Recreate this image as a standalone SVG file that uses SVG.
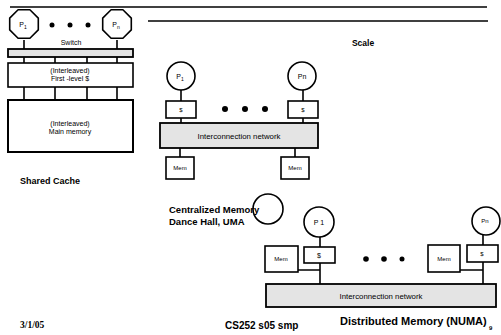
<svg xmlns="http://www.w3.org/2000/svg" width="501" height="335" viewBox="0 0 501 335">
  <style>
    .t { font-family: "Liberation Sans", Arial, sans-serif; fill: #000; }
    .s { font-size: 7px; text-anchor: middle; }
    .net { font-size: 7.8px; text-anchor: middle; }
    .sm { font-size: 6px; text-anchor: middle; }
    .b { font-weight: bold; font-size: 9.5px; }
    .box { fill: #fff; stroke: #000; stroke-width: 1.6; }
    .thick { fill: #fff; stroke: #000; stroke-width: 2; }
    .bar { fill: #e4e4e4; stroke: #000; stroke-width: 1.8; }
    .proc { fill: #fff; stroke: #000; stroke-width: 1.6; stroke-linejoin: round; }
    .open { fill: none; stroke: #000; stroke-width: 1.6; }
    .ln { stroke: #000; stroke-width: 1.6; fill: none; }
    .dot { fill: #000; }
  </style>

  <!-- header rules -->
  <g id="rules">
    <line class="ln" x1="10" y1="7" x2="487" y2="7" stroke-width="2"/>
    <line class="ln" x1="148" y1="21" x2="488" y2="21" stroke-width="2"/>
    <text class="t" x="363" y="46" font-size="8.5" font-weight="bold" text-anchor="middle">Scale</text>
  </g>

  <g id="connectors">
    <!-- shared cache -->
    <path class="ln" d="M24 40V49M117 40V49M24 57V63M55 57V63M87 57V63M117 57V63M24 87V100M55 87V100M87 87V100M117 87V100"/>
    <!-- centralized -->
    <path class="ln" d="M181 90V101M303 90V101M181 118V123M303 118V123M180 148V157M295 148V157"/>
    <!-- distributed -->
    <path class="ln" d="M320 237V247M320 263V285M298 270H320M483 235V245M483 262V285M460 270H483"/>
  </g>

  <!-- shared cache organisation -->
  <g id="sc-p1">
    <polygon class="proc" points="38.3,18.1 29.9,9.7 18.1,9.7 9.7,18.1 9.7,29.9 18.1,38.3 29.9,38.3 38.3,29.9"/>
    <text class="t s" x="23" y="27">P<tspan font-size="5" dy="1.5">1</tspan></text>
  </g>
  <g id="sc-pn">
    <polygon class="proc" points="131.3,18.1 122.9,9.7 111.1,9.7 102.7,18.1 102.7,29.9 111.1,38.3 122.9,38.3 131.3,29.9"/>
    <text class="t s" x="116" y="27">P<tspan font-size="5" dy="1.5">n</tspan></text>
  </g>
  <g id="sc-dots">
    <circle class="dot" cx="52" cy="25" r="2.5"/>
    <circle class="dot" cx="70" cy="25" r="2.5"/>
    <circle class="dot" cx="88" cy="25" r="2.5"/>
  </g>
  <g id="sc-switch">
    <text class="t s" x="71" y="45" font-size="7.5">Switch</text>
    <rect class="bar" x="8" y="49" width="125" height="8" stroke-width="1.4"/>
  </g>
  <g id="sc-cache">
    <rect class="box" x="8" y="63" width="125" height="24"/>
    <text class="t s" x="70" y="73">(Interleaved)</text>
    <text class="t s" x="70" y="81">First -level $</text>
  </g>
  <g id="sc-mem">
    <rect class="thick" x="8" y="100" width="125" height="52"/>
    <text class="t s" x="70" y="126">(Interleaved)</text>
    <text class="t s" x="70" y="134">Main  memory</text>
  </g>
  <text class="t" x="20" y="184" font-weight="bold" font-size="9">Shared Cache</text>

  <!-- centralized memory (dance hall) -->
  <g id="cm-p1">
    <circle class="proc" cx="181" cy="76" r="14"/>
    <text class="t s" x="180" y="79">P<tspan font-size="5" dy="1.5">1</tspan></text>
  </g>
  <g id="cm-c1">
    <rect class="box" x="166" y="101" width="30" height="17"/>
    <text class="t sm" x="181" y="112">$</text>
  </g>
  <g id="cm-dots">
    <circle class="dot" cx="225" cy="109" r="3"/>
    <circle class="dot" cx="245" cy="109" r="3"/>
    <circle class="dot" cx="265" cy="109" r="3"/>
  </g>
  <g id="cm-pn">
    <circle class="proc" cx="302" cy="76" r="14"/>
    <text class="t s" x="302" y="79">Pn</text>
  </g>
  <g id="cm-cn">
    <rect class="box" x="288" y="101" width="30" height="17"/>
    <text class="t sm" x="303" y="112">$</text>
  </g>
  <g id="cm-net">
    <rect class="bar" x="160" y="123" width="158" height="25"/>
    <text class="t net" x="239" y="139">Interconnection network</text>
  </g>
  <g id="cm-mem1">
    <rect class="box" x="166" y="157" width="28" height="22"/>
    <text class="t sm" x="180" y="170">Mem</text>
  </g>
  <g id="cm-mem2">
    <rect class="box" x="281" y="157" width="28" height="22"/>
    <text class="t sm" x="295" y="170">Mem</text>
  </g>
  <text class="t b" x="169" y="213">Centralized Memory</text>
  <text class="t b" x="169" y="225">Dance Hall, UMA</text>

  <!-- distributed memory (NUMA) -->
  <g id="dm-blank">
    <circle class="open" cx="268" cy="209" r="15"/>
  </g>
  <g id="dm-p1">
    <circle class="proc" cx="319" cy="222" r="15"/>
    <text class="t s" x="319" y="225">P 1</text>
  </g>
  <g id="dm-c1">
    <rect class="box" x="304" y="247" width="31" height="16"/>
    <text class="t s" x="319" y="258">$</text>
  </g>
  <g id="dm-mem1">
    <rect class="box" x="265" y="246" width="33" height="26"/>
    <text class="t sm" x="281" y="261">Mem</text>
  </g>
  <g id="dm-dots">
    <circle class="dot" cx="366" cy="259" r="2.8"/>
    <circle class="dot" cx="384" cy="259" r="2.8"/>
    <circle class="dot" cx="402" cy="259" r="2.5"/>
  </g>
  <g id="dm-mem2">
    <rect class="box" x="428" y="245" width="32" height="27"/>
    <text class="t sm" x="444" y="261">Mem</text>
  </g>
  <g id="dm-cn">
    <rect class="box" x="467" y="245" width="31" height="17"/>
    <text class="t sm" x="482" y="256">$</text>
  </g>
  <g id="dm-pn">
    <circle class="proc" cx="486" cy="221" r="14"/>
    <text class="t sm" x="485" y="223">Pn</text>
  </g>
  <g id="dm-net">
    <rect class="bar" x="266" y="284" width="230" height="23" fill="#ececec"/>
    <text class="t net" x="381" y="299">Interconnection network</text>
  </g>

  <!-- footer -->
  <text x="20" y="328" font-family="Liberation Serif, serif" font-weight="bold" font-size="9.5">3/1/05</text>
  <text class="t" x="225" y="329" font-weight="bold" font-size="10">CS252 s05 smp</text>
  <text class="t" x="340" y="325" font-weight="bold" font-size="11">Distributed Memory (NUMA)</text>
  <text class="t" x="489" y="330" font-weight="bold" font-size="6">9</text>
</svg>
